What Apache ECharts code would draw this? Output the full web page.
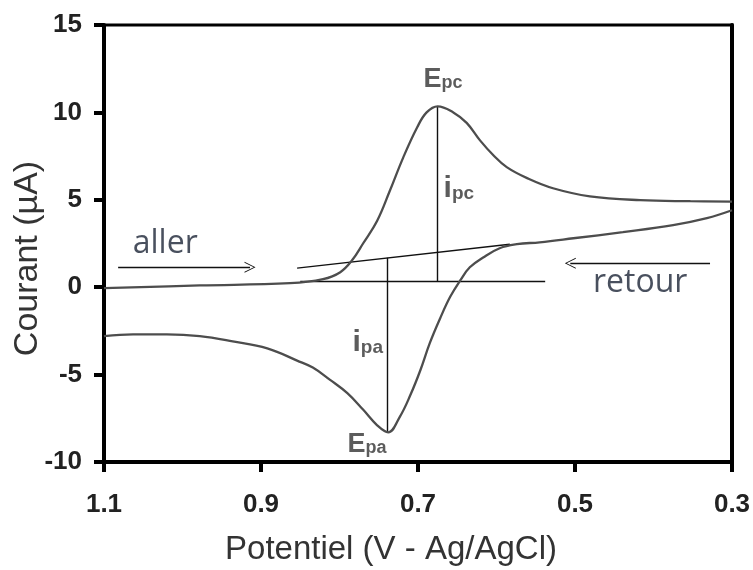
<!DOCTYPE html>
<html>
<head>
<meta charset="utf-8">
<script src="https://cdn.jsdelivr.net/npm/echarts@6/dist/echarts.min.js"></script>
<style>
  html, body { margin: 0; padding: 0; background: #fff; }
  #cv_chart { width: 753px; height: 570px; }
</style>
</head>
<body>
<div id="cv_chart"></div>
<script>
// balayage aller (potentiel en V, courant en µA)
const allerPot = [1.1, 0.978, 0.863, 0.821, 0.799, 0.784, 0.770, 0.752, 0.736, 0.719, 0.701, 0.689, 0.675, 0.655, 0.638, 0.621, 0.604, 0.587, 0.561, 0.528, 0.481, 0.417, 0.353, 0.3];
const allerCur = [-0.05, 0.1, 0.23, 0.46, 0.86, 1.54, 2.5, 3.8, 5.5, 7.4, 9.15, 10.0, 10.35, 10.0, 9.4, 8.4, 7.55, 6.87, 6.24, 5.66, 5.2, 4.98, 4.92, 4.9];

// balayage retour
const retourPot = [0.3, 0.332, 0.375, 0.439, 0.502, 0.545, 0.574, 0.596, 0.617, 0.634, 0.646, 0.659, 0.672, 0.685, 0.697, 0.710, 0.723, 0.738, 0.752, 0.770, 0.790, 0.812, 0.834, 0.854, 0.892, 0.936, 0.978, 1.020, 1.063, 1.1];
const retourCur = [4.4, 3.95, 3.55, 3.15, 2.8, 2.57, 2.46, 2.23, 1.7, 1.14, 0.4, -0.55, -1.8, -3.2, -4.75, -6.2, -7.4, -8.3, -7.9, -7.0, -6.06, -5.3, -4.6, -4.2, -3.5, -3.1, -2.8, -2.7, -2.7, -2.8];

// construction lines: [pot1, cur1, pot2, cur2]
const guideLines = [
  [0.850, 0.34, 0.538, 0.34],   // horizontal baseline
  [0.854, 1.09, 0.583, 2.46],   // sloped baseline
  [0.675, 10.35, 0.675, 0.34],  // ipc
  [0.739, 1.68, 0.739, -8.3]    // ipa
];

// direction arrows: [from pot, from cur, to pot, to cur]
const arrowLines = [
  [1.082, 1.14, 0.914, 1.14],
  [0.328, 1.37, 0.506, 1.37]
];

// labels (center position)
const annoText = ['{e|E}{s|pc}', '{i|i}{t|pc}', '{i|i}{t|pa}', '{e|E}{s|pa}', '{w|aller}', '{w|retour}'];
const annoPot = [0.668, 0.648, 0.764, 0.765, 1.022, 0.417];
const annoCur = [11.9, 5.66, -3.15, -9.0, 2.46, 0.23];

// x is drawn as distance from 1.1 V, since the axis runs 1.1 -> 0.3
const X0 = 1.1;
const xOf = (p) => +(X0 - p).toFixed(4);

const FONT = 'Liberation Sans';
const chevron = 'path://M8,0 L16,11 L14.6,11 L8,1.8 L1.4,11 L0,11 Z';

const option = {
  animation: false,
  grid: {
    left: 104, right: 21, top: 25, bottom: 108,
    outerBoundsMode: 'none',
    show: true, borderColor: '#000', borderWidth: 3
  },
  xAxis: {
    type: 'value',
    min: 0, max: 0.8, interval: 0.2,
    name: 'Potentiel (V - Ag/AgCl)',
    nameLocation: 'middle',
    nameGap: 71,
    nameMoveOverlap: false,
    nameTextStyle: { fontFamily: FONT, fontSize: 33, color: '#333', padding: [0, 54, 0, 0] },
    axisLine: { show: true, onZero: false, lineStyle: { color: '#000', width: 4 } },
    axisTick: { show: true, inside: false, length: 10, lineStyle: { color: '#000', width: 4 } },
    axisLabel: {
      margin: 30, fontFamily: FONT, fontSize: 26, fontWeight: 'bold', color: '#222',
      formatter: (v) => (X0 - v).toFixed(1)
    },
    splitLine: { show: false }
  },
  yAxis: [{
    type: 'value',
    min: -10, max: 15, interval: 5,
    name: 'Courant (µA)',
    nameLocation: 'middle',
    nameGap: 59,
    nameMoveOverlap: false,
    nameTextStyle: { fontFamily: FONT, fontSize: 34, color: '#333', padding: [0, 30, 0, 0] },
    axisLine: { show: true, onZero: false, lineStyle: { color: '#000', width: 4 } },
    axisTick: { show: true, inside: false, length: 10, lineStyle: { color: '#000', width: 4 } },
    axisLabel: { margin: 22, fontFamily: FONT, fontSize: 26, fontWeight: 'bold', color: '#222' },
    splitLine: { show: false }
  }, {
    type: 'value',
    position: 'right',
    min: -10, max: 15, interval: 5,
    axisLine: { show: true, onZero: false, lineStyle: { color: '#000', width: 4 } },
    axisTick: { show: false },
    axisLabel: { show: false },
    splitLine: { show: false }
  }],
  series: [
    {
      name: 'aller',
      type: 'line',
      data: allerPot.map((p, i) => [xOf(p), allerCur[i]]),
      smooth: 0.4,
      showSymbol: false,
      lineStyle: { color: '#4d4d4d', width: 2.3 },
      z: 3
    },
    {
      name: 'retour',
      type: 'line',
      data: retourPot.map((p, i) => [xOf(p), retourCur[i]]),
      smooth: 0.4,
      showSymbol: false,
      lineStyle: { color: '#4d4d4d', width: 2.3 },
      z: 3
    },
    {
      type: 'lines',
      coordinateSystem: 'cartesian2d',
      silent: true,
      symbol: ['none', 'none'],
      lineStyle: { color: '#111', width: 1.4, opacity: 1 },
      data: guideLines.map((g) => ({ coords: [[xOf(g[0]), g[1]], [xOf(g[2]), g[3]]] })),
      z: 2
    },
    {
      type: 'lines',
      coordinateSystem: 'cartesian2d',
      silent: true,
      symbol: ['none', chevron],
      symbolSize: [16, 11],
      lineStyle: { color: '#111', width: 1.3, opacity: 1 },
      data: arrowLines.map((a) => ({ coords: [[xOf(a[0]), a[1]], [xOf(a[2]), a[3]]] })),
      z: 2
    },
    {
      type: 'scatter',
      silent: true,
      symbolSize: 0,
      label: {
        show: true,
        position: 'inside',
        rich: {
          e: { fontFamily: FONT, fontSize: 27, fontWeight: 'bold', color: '#333' },
          s: { fontFamily: FONT, fontSize: 18, fontWeight: 'bold', color: '#333', padding: [8, 0, 0, 0] },
          i: { fontFamily: FONT, fontSize: 30, fontWeight: 'bold', color: '#333' },
          t: { fontFamily: FONT, fontSize: 19, fontWeight: 'bold', color: '#333', padding: [12, 0, 0, 0] },
          w: { fontFamily: 'Open Sans', fontSize: 32, color: '#1b2436' }
        }
      },
      data: annoText.map((t, i) => ({
        value: [xOf(annoPot[i]), annoCur[i]],
        label: { formatter: t }
      })),
      z: 4
    }
  ]
};

const chart = echarts.init(document.getElementById('cv_chart'));
chart.setOption(option);
</script>
</body>
</html>
